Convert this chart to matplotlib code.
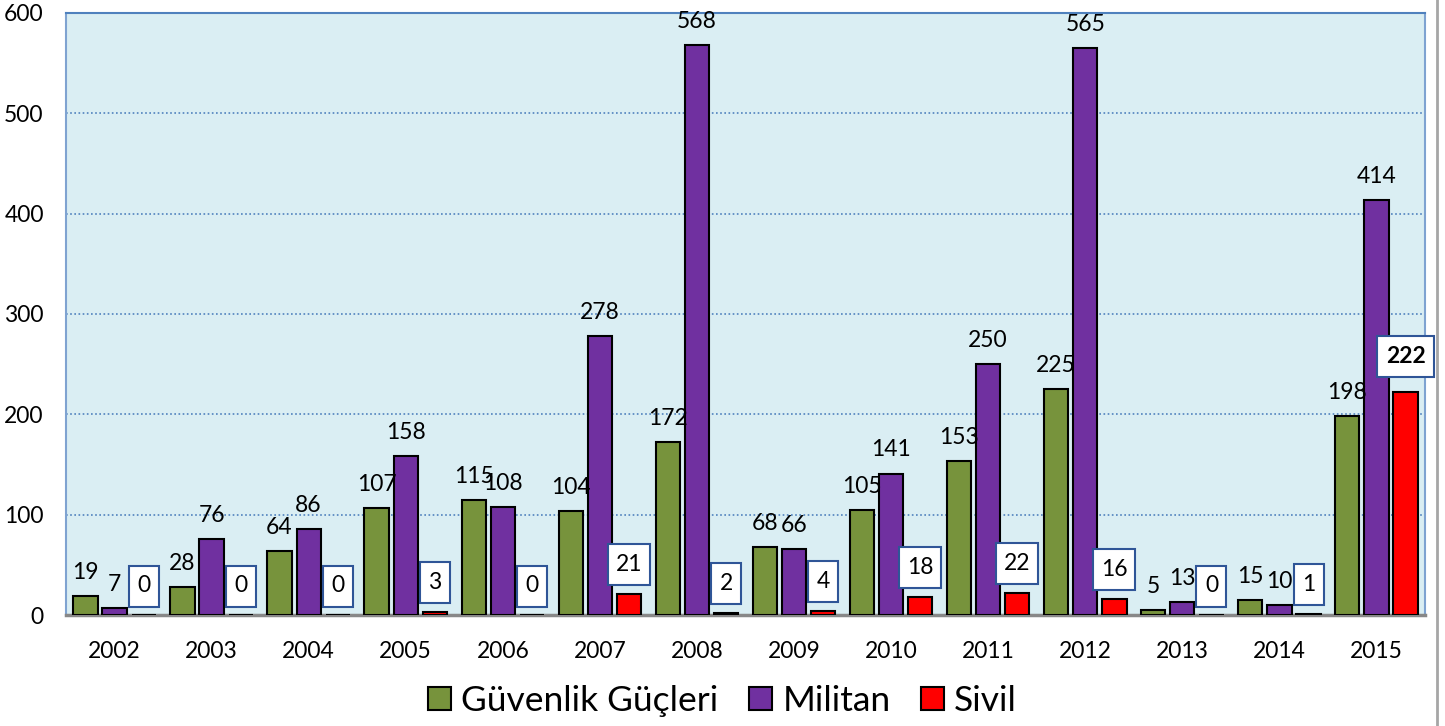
import matplotlib.pyplot as plt
import numpy as np
from matplotlib.lines import Line2D
from matplotlib.patches import Rectangle

years = ["2002", "2003", "2004", "2005", "2006", "2007", "2008",
         "2009", "2010", "2011", "2012", "2013", "2014", "2015"]
guvenlik = [19, 28, 64, 107, 115, 104, 172, 68, 105, 153, 225, 5, 15, 198]
militan = [7, 76, 86, 158, 108, 278, 568, 66, 141, 250, 565, 13, 10, 414]
sivil = [0, 0, 0, 3, 0, 21, 2, 4, 18, 22, 16, 0, 1, 222]
series_names = ["Güvenlik Güçleri", "Militan", "Sivil"]

plt.rcParams['font.family'] = ['Lato', 'DejaVu Sans']

fig = plt.figure(figsize=(14.45, 7.26), dpi=100)
ax = fig.add_axes([66 / 1445, 111 / 726, 1359 / 1445, 602 / 726])
ax.set_facecolor("#DAEEF3")

x = np.arange(len(years))
off = 0.3
w = 0.25
b1 = ax.bar(x - off, guvenlik, w, color="#77933C", edgecolor="black", linewidth=1.5, label=series_names[0], zorder=3)
b2 = ax.bar(x, militan, w, color="#7030A0", edgecolor="black", linewidth=1.5, label=series_names[1], zorder=3)
b3 = ax.bar(x + off, sivil, w, color="#FF0000", edgecolor="black", linewidth=1.5, label=series_names[2], zorder=3)

for xs, vals in ((x - off, guvenlik), (x, militan)):
    for xi, v in zip(xs, vals):
        ax.annotate(str(v), (xi, v), xytext=(0, 17), textcoords="offset points",
                    ha="center", va="center", fontsize=16.5, zorder=5)

# boxed labels for the red series; box size in pixels -> data units
px_x = 1359 / 14.0
px_y = 602 / 600.0
for i, (xi, v) in enumerate(zip(x + off, sivil)):
    last = i == len(sivil) - 1
    lift = 36 if last else 29
    bw = (57 if last else 18 + 12 * len(str(v))) / px_x
    bh = 41 / px_y
    cy = v + lift / px_y
    ax.add_patch(Rectangle((xi - bw / 2, cy - bh / 2), bw, bh, facecolor="white",
                           edgecolor="#2F5597", linewidth=1.5, zorder=6, clip_on=False))
    ax.text(xi, cy, str(v), ha="center", va="center", fontsize=16.5,
            fontweight="bold" if last else "normal", zorder=7)

ax.set_xlim(-0.5, 13.5)
ax.set_ylim(0, 600)
ax.set_yticks(range(0, 601, 100))
ax.set_xticks(x)
ax.set_xticklabels(years)
ax.tick_params(axis="both", length=0, labelsize=16.5)
ax.tick_params(axis="x", pad=19)
ax.tick_params(axis="y", pad=16)

ax.yaxis.grid(True, linestyle=(0, (1, 1.5)), color="#4F81BD", linewidth=1.2, zorder=1)
ax.set_axisbelow(True)

for s in ("top", "left", "right"):
    ax.spines[s].set_color("#7FA3D1")
    ax.spines[s].set_linewidth(1.5)
ax.spines["top"].set_color("#4F81BD")
ax.spines["bottom"].set_color("#888888")
ax.spines["bottom"].set_linewidth(2.5)

leg = fig.legend(handles=[b1, b2, b3], labels=series_names, loc="center",
                 bbox_to_anchor=(0.5, 25 / 726), ncol=3, frameon=False,
                 fontsize=25.5, handlelength=0.65, handleheight=0.65,
                 handletextpad=0.3, columnspacing=0.85)

fig.add_artist(Line2D([1437 / 1445, 1437 / 1445], [0, 1], color="#A6A6A6", lw=2))

fig.savefig("out.png", dpi=100)
